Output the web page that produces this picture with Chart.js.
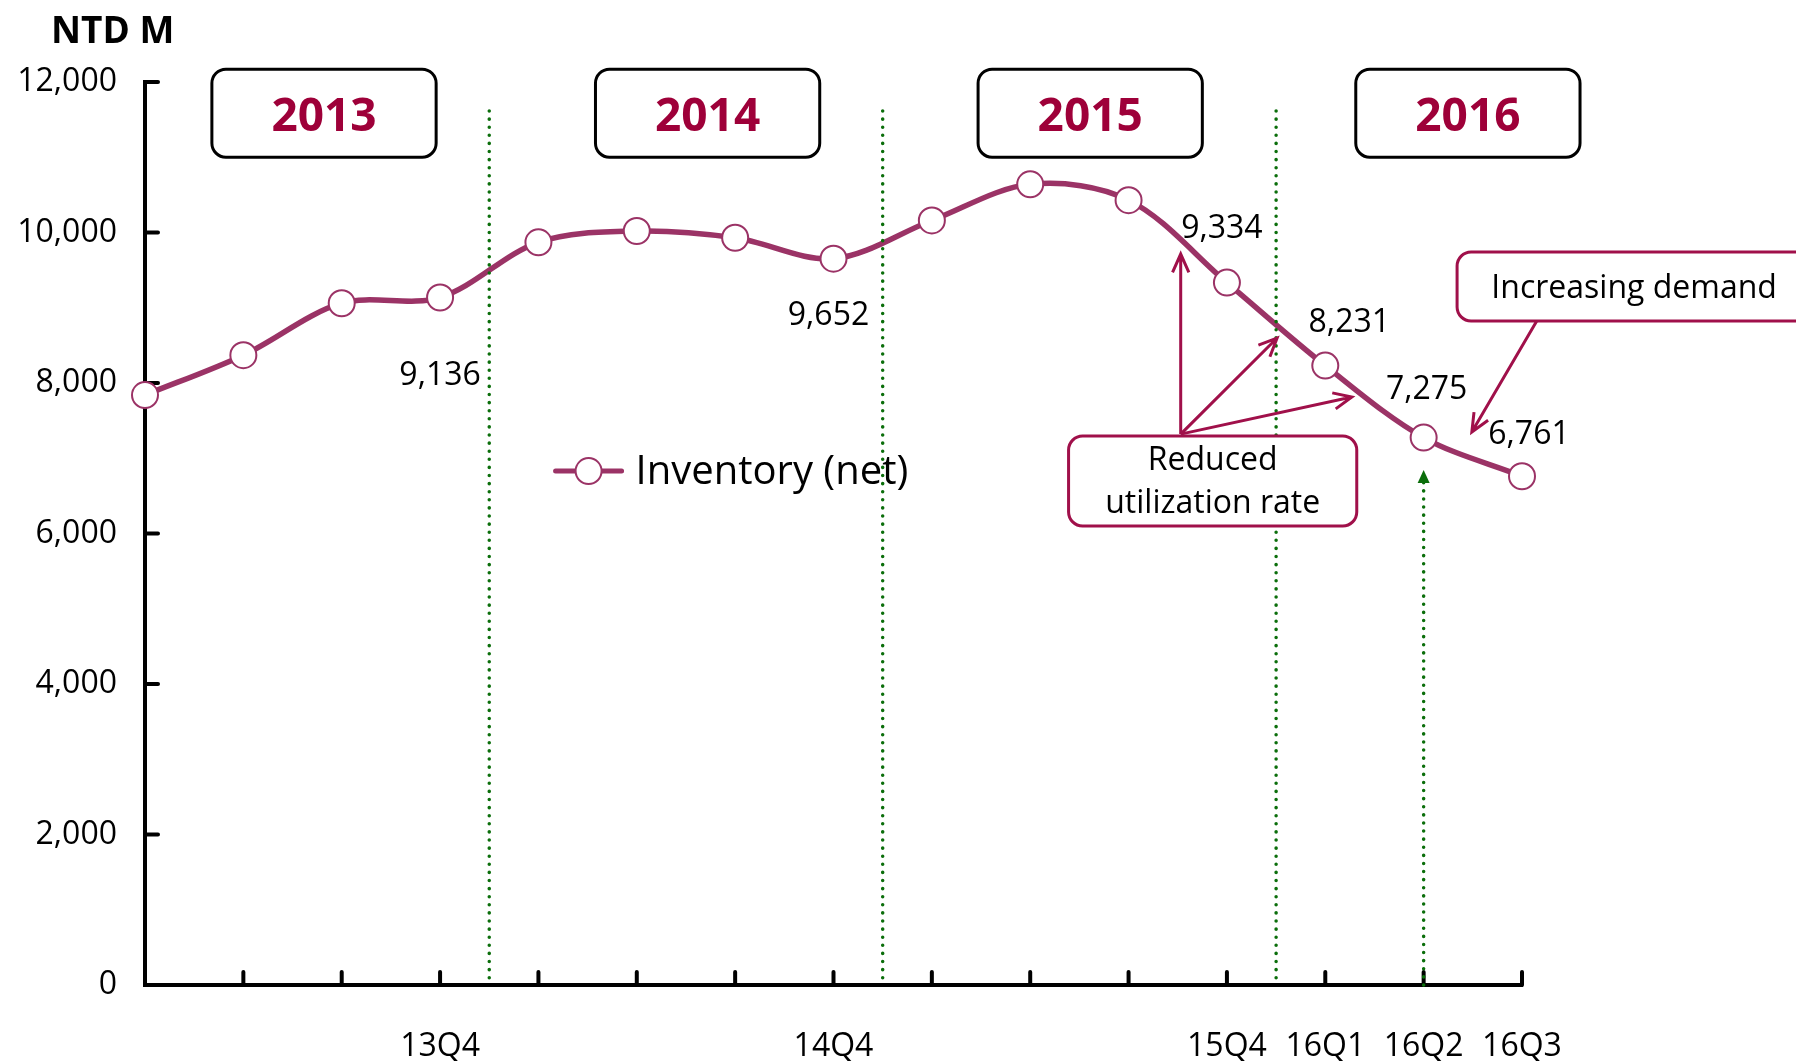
<!DOCTYPE html>
<html>
<head>
<meta charset="utf-8">
<script src="https://cdn.jsdelivr.net/npm/chart.js@4.4.1/dist/chart.umd.min.js"></script>
<style>
  html, body { margin: 0; padding: 0; background: #fff; }
  #wrap { width: 1796px; height: 1061px; position: relative; }
</style>
</head>
<body>
<div id="wrap"><canvas id="myChart"></canvas></div>
<script>
// data
const quarters = ['13Q1', '13Q2', '13Q3', '13Q4', '14Q1', '14Q2', '14Q3', '14Q4',
                  '15Q1', '15Q2', '15Q3', '15Q4', '16Q1', '16Q2', '16Q3'];
const inventory = [7840, 8370, 9060, 9136, 9870, 10020, 9930, 9652,
                   10160, 10640, 10430, 9334, 8231, 7275, 6761];
const shownQuarters = ['13Q4', '14Q4', '15Q4', '16Q1', '16Q2', '16Q3'];
const labelledQuarters = ['13Q4', '14Q4', '15Q4', '16Q1', '16Q2', '16Q3'];
const yearNames = ['2013', '2014', '2015', '2016'];

const FONT = "'Open Sans', 'Noto Sans', sans-serif";
const LINE = '#9B3366';
const CRIMSON = '#A0104A';
const YEARRED = '#9E0039';
const GREEN = '#0B6E0B';

// label placement (pixel offsets from the point)
const labelOffsets = { '13Q4': [0, 76], '14Q4': [-5, 55], '15Q4': [-5, -56],
                       '16Q1': [24, -45], '16Q2': [3, -50], '16Q3': [7, -43] };
// year boxes: centre in category units
const yearCentres = [1.82, 5.72, 9.61, 13.45];

function roundBox(ctx, x, y, w, h, r) {
  ctx.beginPath();
  ctx.moveTo(x + r, y);
  ctx.arcTo(x + w, y, x + w, y + h, r);
  ctx.arcTo(x + w, y + h, x, y + h, r);
  ctx.arcTo(x, y + h, x, y, r);
  ctx.arcTo(x, y, x + w, y, r);
  ctx.closePath();
}

function openArrow(ctx, x1, y1, x2, y2) {
  const a = Math.atan2(y2 - y1, x2 - x1);
  const L = 20, s = 0.42;
  ctx.beginPath();
  ctx.moveTo(x1, y1);
  ctx.lineTo(x2, y2);
  ctx.moveTo(x2 - L * Math.cos(a - s), y2 - L * Math.sin(a - s));
  ctx.lineTo(x2, y2);
  ctx.lineTo(x2 - L * Math.cos(a + s), y2 - L * Math.sin(a + s));
  ctx.stroke();
}

const overlay = {
  id: 'overlay',
  beforeDatasetsDraw(chart) {
    const { ctx, scales: { x, y } } = chart;
    ctx.save();
    ctx.strokeStyle = '#000';
    ctx.lineWidth = 4;
    ctx.lineCap = 'round';
    // inner tick marks
    y.ticks.forEach(t => {
      const py = y.getPixelForValue(t.value);
      ctx.beginPath(); ctx.moveTo(x.left, py); ctx.lineTo(x.left + 13, py); ctx.stroke();
    });
    quarters.forEach((q, i) => {
      if (i === 0) return;
      const px = x.getPixelForValue(i);
      ctx.beginPath(); ctx.moveTo(px, y.bottom); ctx.lineTo(px, y.bottom - 13); ctx.stroke();
    });
    ctx.restore();
  },
  afterDatasetsDraw(chart) {
    const { ctx, scales: { x, y } } = chart;
    const px = v => x.getPixelForValue(v);
    const py = v => y.getPixelForValue(v);
    ctx.save();

    // legend
    const lx = px(4.51), ly = py(6830);
    ctx.strokeStyle = LINE; ctx.lineWidth = 5; ctx.lineCap = 'round';
    ctx.beginPath(); ctx.moveTo(lx - 33, ly); ctx.lineTo(lx + 33, ly); ctx.stroke();
    ctx.beginPath(); ctx.arc(lx, ly, 13, 0, Math.PI * 2);
    ctx.fillStyle = '#fff'; ctx.fill();
    ctx.lineWidth = 2; ctx.stroke();
    ctx.fillStyle = '#000';
    ctx.font = '40px ' + FONT;
    ctx.textAlign = 'left'; ctx.textBaseline = 'middle';
    ctx.fillText(chart.data.datasets[0].label, lx + 47, ly + 2);

    // green dotted dividers
    ctx.strokeStyle = GREEN; ctx.lineWidth = 3.5; ctx.lineCap = 'round';
    ctx.setLineDash([0.1, 8]);
    [3.5, 7.5, 11.5].forEach(v => {
      ctx.beginPath(); ctx.moveTo(px(v), py(11615)); ctx.lineTo(px(v), y.bottom); ctx.stroke();
    });
    const gx = px(13), gy = py(6844);
    ctx.beginPath(); ctx.moveTo(gx, y.bottom); ctx.lineTo(gx, gy + 12); ctx.stroke();
    ctx.setLineDash([]);
    ctx.fillStyle = GREEN;
    ctx.beginPath(); ctx.moveTo(gx, gy); ctx.lineTo(gx - 6, gy + 13); ctx.lineTo(gx + 6, gy + 13); ctx.closePath(); ctx.fill();

    // year boxes
    ctx.lineCap = 'butt';
    yearNames.forEach((name, i) => {
      const x0 = px(yearCentres[i] - 1.14), x1 = px(yearCentres[i] + 1.14);
      const y0 = py(12170), y1 = py(11000);
      roundBox(ctx, x0, y0, x1 - x0, y1 - y0, 14);
      ctx.fillStyle = '#fff'; ctx.fill();
      ctx.strokeStyle = '#000'; ctx.lineWidth = 3; ctx.stroke();
      ctx.fillStyle = YEARRED;
      ctx.font = 'bold 46px ' + FONT;
      ctx.textAlign = 'center'; ctx.textBaseline = 'middle';
      ctx.fillText(name, (x0 + x1) / 2, (y0 + y1) / 2 + 5);
    });

    // "Reduced utilization rate" box and arrows
    ctx.strokeStyle = CRIMSON; ctx.lineWidth = 3;
    const ox = px(10.53), oy = py(7321);
    openArrow(ctx, ox, oy, px(10.53), py(9714));
    openArrow(ctx, ox, oy, px(11.51), py(8598));
    openArrow(ctx, ox, oy, px(12.27), py(7814));
    {
      const x0 = px(9.39), x1 = px(12.32), y0 = py(7296), y1 = py(6100);
      roundBox(ctx, x0, y0, x1 - x0, y1 - y0, 14);
      ctx.fillStyle = '#fff'; ctx.fill();
      ctx.lineWidth = 3; ctx.stroke();
      ctx.fillStyle = '#000';
      ctx.font = '32px ' + FONT;
      ctx.textAlign = 'center'; ctx.textBaseline = 'middle';
      const cx = (x0 + x1) / 2;
      ctx.fillText('Reduced', cx, y0 + 25);
      ctx.fillText('utilization rate', cx, y0 + 68);
    }

    // "Increasing demand" box and arrow
    {
      const x0 = px(13.34), x1 = px(17.1), y0 = py(9741), y1 = py(8824);
      roundBox(ctx, x0, y0, x1 - x0, y1 - y0, 14);
      ctx.fillStyle = '#fff'; ctx.fill();
      ctx.strokeStyle = CRIMSON; ctx.lineWidth = 3; ctx.stroke();
      ctx.fillStyle = '#000';
      ctx.font = '32px ' + FONT;
      ctx.textAlign = 'center'; ctx.textBaseline = 'middle';
      ctx.fillText('Increasing demand', px(15.14), (y0 + y1) / 2 + 2);
      openArrow(ctx, px(14.15), y1, px(13.49), py(7349));
    }

    // value labels
    ctx.fillStyle = '#000';
    ctx.font = '32px ' + FONT;
    ctx.textAlign = 'center'; ctx.textBaseline = 'middle';
    labelledQuarters.forEach(q => {
      const i = quarters.indexOf(q);
      const off = labelOffsets[q];
      ctx.fillText(inventory[i].toLocaleString('en-US'), px(i) + off[0], py(inventory[i]) + off[1] + 2);
    });

    ctx.restore();
  }
};

const ctx = document.getElementById('myChart').getContext('2d');
new Chart(ctx, {
  type: 'line',
  data: {
    labels: quarters,
    datasets: [{
      label: 'Inventory (net)',
      data: inventory,
      borderColor: LINE,
      borderWidth: 5.5,
      tension: 0.33,
      pointRadius: 13,
      pointBorderWidth: 2,
      pointBackgroundColor: '#fff',
      pointBorderColor: LINE,
      clip: false
    }]
  },
  options: {
    responsive: true,
    maintainAspectRatio: false,
    animation: false,
    devicePixelRatio: 1,
    layout: { padding: { left: 0, top: 82, right: 274, bottom: 0 } },
    plugins: {
      legend: { display: false },
      tooltip: { enabled: false },
      title: { display: false }
    },
    scales: {
      x: {
        offset: false,
        grid: { display: true, drawOnChartArea: false, drawTicks: false },
        border: { display: true, color: '#000', width: 4 },
        ticks: {
          autoSkip: false, maxRotation: 0, padding: 43, color: '#000',
          font: { family: FONT, size: 32 },
          callback: function (v) {
            const q = this.getLabelForValue(v);
            return shownQuarters.includes(q) ? q : '';
          }
        },
        afterFit: s => { s.height = 76; }
      },
      y: {
        min: 0, max: 12000,
        grid: { display: true, drawOnChartArea: false, drawTicks: false },
        border: { display: true, color: '#000', width: 4 },
        ticks: {
          stepSize: 2000, padding: 28, color: '#000',
          font: { family: FONT, size: 32 },
          callback: v => v.toLocaleString('en-US')
        },
        afterFit: s => { s.width = 145; }
      }
    }
  },
  plugins: [overlay]
});

// NTD M unit label
const unit = document.createElement('div');
unit.textContent = 'NTD M';
unit.style.cssText = "position:absolute;left:51px;top:3px;font:bold 37px 'Open Sans','Noto Sans',sans-serif;color:#000;";
document.getElementById('wrap').appendChild(unit);
</script>
</body>
</html>
